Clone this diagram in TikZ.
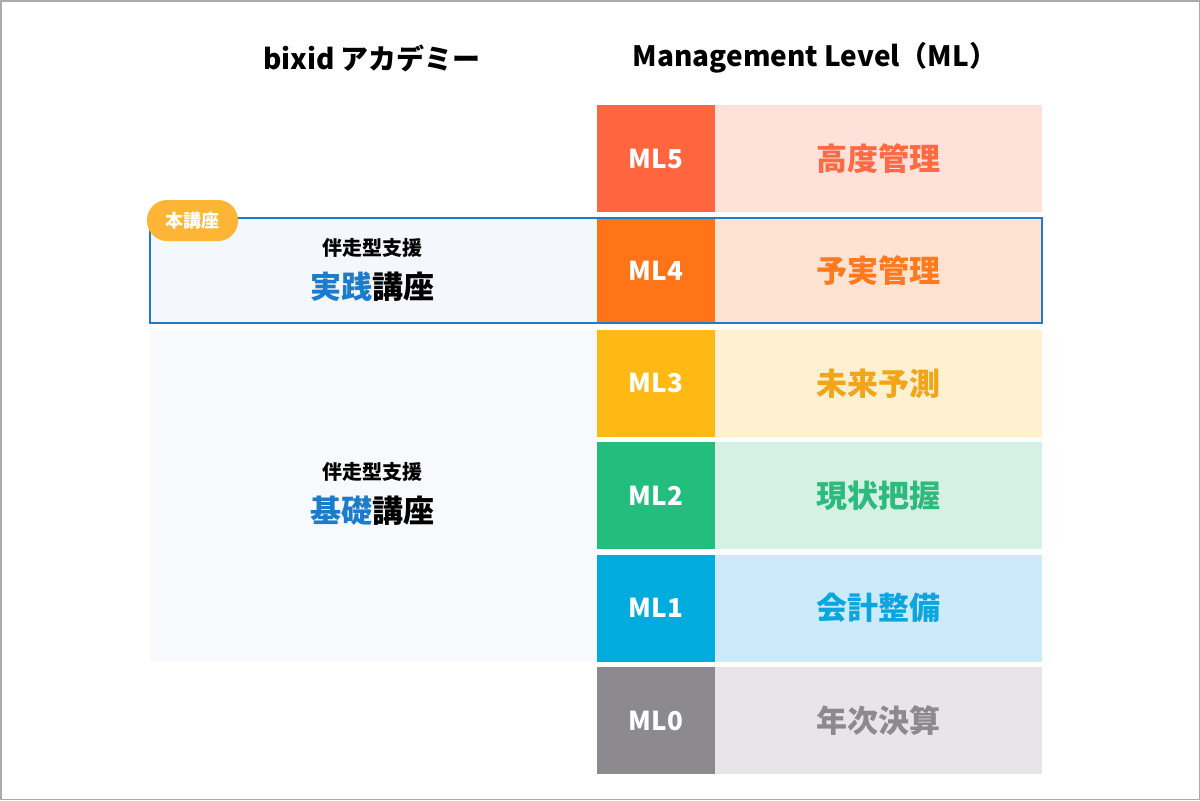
\documentclass[tikz,border=0pt]{standalone}
\usepackage{fontspec}
\setmainfont{Noto Sans CJK JP}
\definecolor{bordergray}{HTML}{ABABAB}
\definecolor{accentblue}{HTML}{1C7CC9}
\definecolor{boxblue}{HTML}{1F7CC6}
\definecolor{pracfill}{HTML}{F4F7FB}
\definecolor{basicfill}{HTML}{F7F9FC}
\definecolor{badgefill}{HTML}{FDB535}
\definecolor{dk5}{HTML}{FF663F}\definecolor{lt5}{HTML}{FEE2DA}\definecolor{tx5}{HTML}{FF6A45}
\definecolor{dk4}{HTML}{FF7417}\definecolor{lt4}{HTML}{FFE3D2}\definecolor{tx4}{HTML}{FF7A1F}
\definecolor{dk3}{HTML}{FFB914}\definecolor{lt3}{HTML}{FFF0D2}\definecolor{tx3}{HTML}{F2A516}
\definecolor{dk2}{HTML}{23BE7E}\definecolor{lt2}{HTML}{D5F1E4}\definecolor{tx2}{HTML}{2DBA7C}
\definecolor{dk1}{HTML}{00ACDD}\definecolor{lt1}{HTML}{CCEBFA}\definecolor{tx1}{HTML}{0CA6DE}
\definecolor{dk0}{HTML}{8C8A8E}\definecolor{lt0}{HTML}{E7E5E9}\definecolor{tx0}{HTML}{8C8A8E}
\begin{document}
\begin{tikzpicture}[x=0.5pt,y=-0.5pt,
  lvl/.style={minimum width=59pt,minimum height=53.5pt,inner sep=0pt,text=white,font=\bfseries\fontsize{13}{13}\selectfont},
  lbl/.style={minimum width=163.5pt,minimum height=53.5pt,inner sep=0pt,font=\bfseries\fontsize{15.5}{15.5}\selectfont},
  hdr/.style={inner sep=0pt,font=\bfseries\fontsize{14}{14}\selectfont},
  sub/.style={inner sep=0pt,font=\bfseries\fontsize{10}{10}\selectfont},
  course/.style={inner sep=0pt,font=\bfseries\fontsize{15.5}{15.5}\selectfont},
  badge/.style={fill=badgefill,rounded corners=10pt,minimum width=45.5pt,minimum height=20.5pt,inner sep=0pt,text=white,font=\bfseries\fontsize{9}{9}\selectfont}]
\useasboundingbox (0,0) rectangle (1200,800);
\draw[bordergray,line width=0.75pt] (0.75,0.75) rectangle (1199.25,799.25);
% headers
\node[hdr] (h1) at (372,58) {bixid アカデミー};
\node[hdr] (h2) at (815,58) {Management Level（ML）};
% course backgrounds
\fill[basicfill] (150,330) rectangle (597,661);
\fill[pracfill] (150,218) rectangle (597,323);
% levels
\foreach \i/\t [count=\n from 0] in {5/高度管理,4/予実管理,3/未来予測,2/現状把握,1/会計整備,0/年次決算}{
  \pgfmathsetmacro\yy{158.5+\n*112.4}
  \node[lvl,fill=dk\i] (ml\i) at (656,\yy) {ML\i};
  \node[lbl,fill=lt\i,text=tx\i] (name\i) at (878.5,\yy) {\t};
}
% practical course
\draw[boxblue,line width=1pt] (150,218) rectangle (1042,323);
\node[sub] (p1) at (372,248) {伴走型支援};
\node[course] (p2) at (372,287) {\textcolor{accentblue}{実践}講座};
\node[badge] (badge) at (192.5,220.5) {本講座};
% basic course
\node[sub] (b1) at (372,472) {伴走型支援};
\node[course] (b2) at (372,511) {\textcolor{accentblue}{基礎}講座};
\end{tikzpicture}
\end{document}
